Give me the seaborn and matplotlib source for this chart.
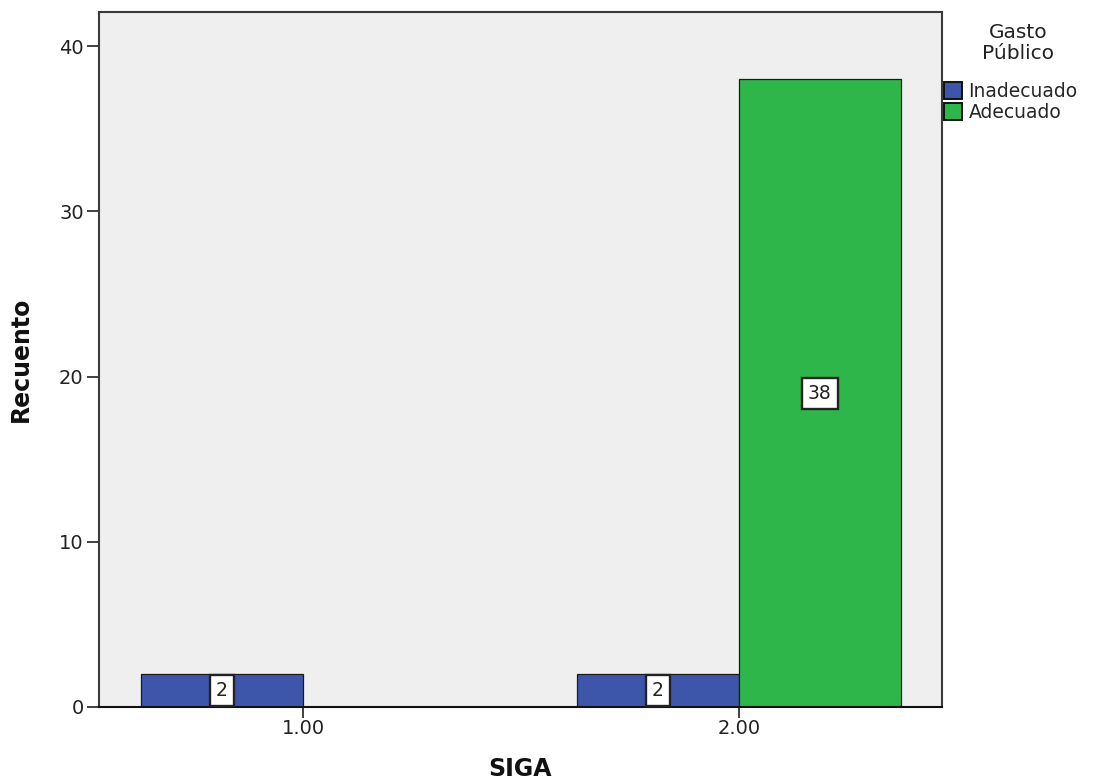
import matplotlib
matplotlib.use("Agg")
import matplotlib.pyplot as plt
from matplotlib.patches import Patch
import seaborn as sns
import pandas as pd

# Counts of "Gasto Público" by SIGA level
siga_levels = ["1.00", "2.00"]
gasto_levels = ["Inadecuado", "Adecuado"]
siga = ["1.00", "2.00", "2.00"]
gasto = ["Inadecuado", "Inadecuado", "Adecuado"]
recuento = [2, 2, 38]
y_ticks = [0, 10, 20, 30, 40]

colors = {"Inadecuado": "#3d56aa", "Adecuado": "#2eb64a"}

df = pd.DataFrame({"SIGA": siga, "Gasto Público": gasto, "Recuento": recuento})

sns.set_theme(style="white")
plt.rcParams["font.family"] = ["DejaVu Sans"]

fig = plt.figure(figsize=(11, 7.84), dpi=100)
ax = fig.add_axes([99 / 1100, 77 / 784, 843 / 1100, 695 / 784])
ax.set_facecolor("#efefef")

sns.barplot(
    data=df, x="SIGA", y="Recuento", hue="Gasto Público",
    order=siga_levels, hue_order=gasto_levels, palette=colors,
    saturation=1, width=0.743, dodge=True, edgecolor="#1a1a1a",
    linewidth=0.9, errorbar=None, legend=False, ax=ax,
)

# value labels in white boxes at the middle of each bar
for cont in ax.containers:
    ax.bar_label(
        cont, labels=[f"{int(b.get_height())}" for b in cont],
        label_type="center", fontsize=13.5, color="#222222",
        bbox=dict(boxstyle="square,pad=0.32", fc="white", ec="#222222", lw=1.7),
    )

ax.set_xlim(-0.468, 1.466)
ax.set_ylim(0, 42.06)
ax.set_yticks(y_ticks)
ax.set_yticklabels([str(t) for t in y_ticks])

for side, sp in ax.spines.items():
    sp.set_visible(True)
    sp.set_color("#3a3a3a")
    sp.set_linewidth(1.5)
ax.spines["bottom"].set_color("#111111")

ax.tick_params(axis="y", direction="out", length=9, width=1.3, color="#333333",
               labelsize=14, labelcolor="#222222", pad=2, left=True)
ax.tick_params(axis="x", direction="out", length=8, width=1.3, color="#333333",
               labelsize=14, labelcolor="#222222", pad=1, bottom=True)

ax.set_xlabel("SIGA", fontsize=17, fontweight="bold", color="#111111")
ax.set_ylabel("Recuento", fontsize=17, fontweight="bold", color="#111111")
ax.xaxis.set_label_coords(0.5, -0.072)
ax.yaxis.set_label_coords(-0.078, 0.5)

# legend: title drawn as centred text above the colour keys
fig.text(1018 / 1100, 1 - 23 / 784, "Gasto\nPúblico", ha="center", va="top",
         fontsize=14.5, color="#222222", multialignment="center", linespacing=1.15)
handles = [Patch(facecolor=colors[g], edgecolor="#111111", linewidth=1.4) for g in gasto_levels]
fig.legend(
    handles, gasto_levels,
    loc="upper left", bbox_to_anchor=(944 / 1100, 1 - 82 / 784),
    frameon=False, fontsize=13.5,
    handlelength=0.95, handleheight=0.95, handletextpad=0.35,
    labelspacing=0.1, borderpad=0, borderaxespad=0,
)

fig.savefig("out.png", dpi=100)
